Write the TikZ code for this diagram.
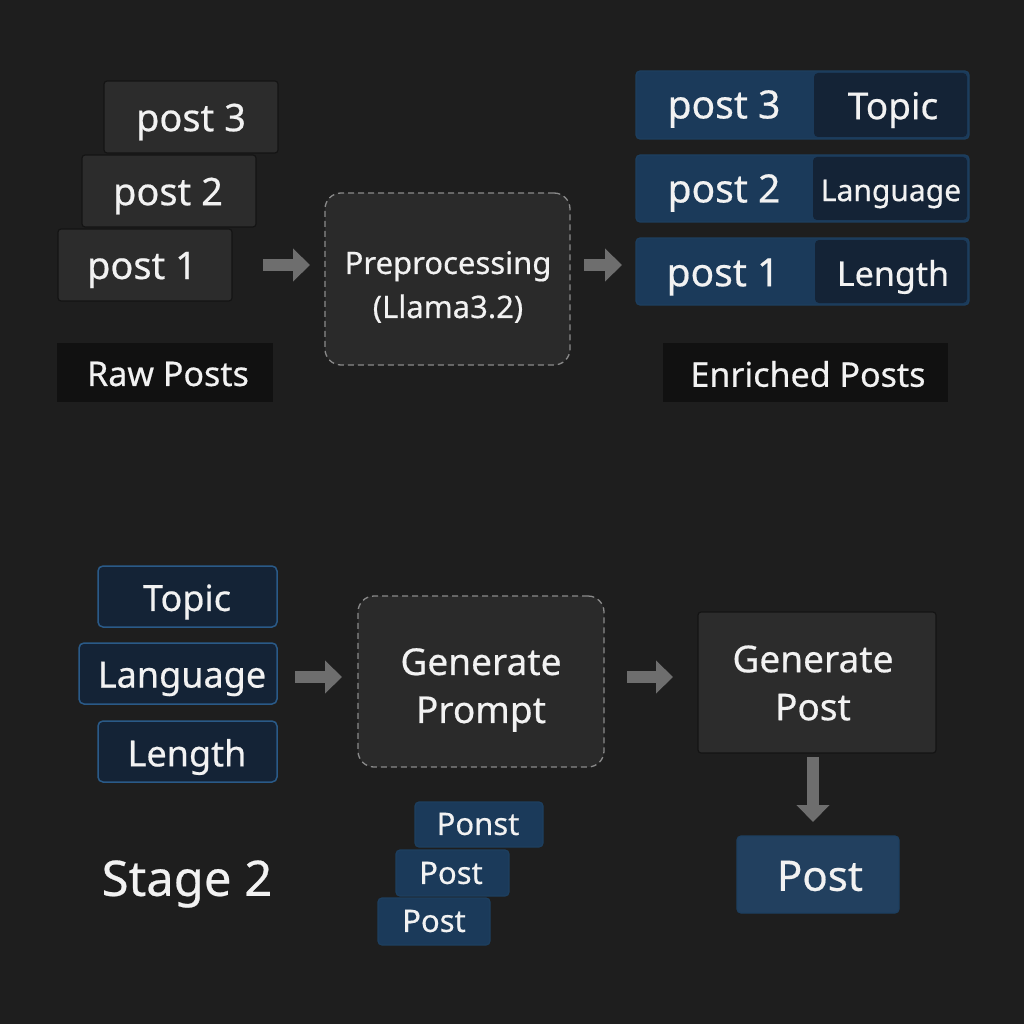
\documentclass[tikz,border=0pt]{standalone}
\usepackage{fontspec}
\setmainfont{Noto Sans}[FakeBold=0.5]
\usetikzlibrary{arrows.meta,positioning,calc}
\definecolor{bg}{HTML}{1E1E1E}
\definecolor{gbox}{HTML}{2C2C2C}
\definecolor{gline}{HTML}{141414}
\definecolor{bbox}{HTML}{1B3A5A}
\definecolor{bdark}{HTML}{142336}
\definecolor{bline}{HTML}{2A5A88}
\definecolor{lbl}{HTML}{111111}
\definecolor{arr}{HTML}{6E6E6E}
\definecolor{dash}{HTML}{8A8A8A}
\definecolor{txt}{HTML}{F2F2F2}
\tikzset{
  every node/.style={text=txt, inner sep=0pt, outer sep=0pt},
  tx/.style={yshift=-4pt},
  graybox/.style={draw=gline, line width=1.2pt, fill=gbox, rounded corners=3pt},
  bluebox/.style={draw=bline!70!black, line width=1.2pt, fill=bbox, rounded corners=4pt},
  tagbox/.style={fill=bdark, rounded corners=4pt},
  navybox/.style={draw=bline, line width=1.5pt, fill=bdark, rounded corners=5pt},
  dashbox/.style={draw=dash, dashed, dash pattern=on 6pt off 4pt, line width=1.3pt, fill=gbox!85!bg, rounded corners=16pt},
  labelbox/.style={fill=lbl},
  bigarrow/.style={draw=arr, line width=12pt, -{Triangle[width=32pt,length=17pt]}},
}
\begin{document}
\begin{tikzpicture}[x=1pt,y=-1pt]
\fill[bg] (0,0) rectangle (1024,1024);
\useasboundingbox (0,0) rectangle (1024,1024);

% ---- Stage 1: raw posts
\node[graybox, minimum width=174pt, minimum height=72pt] (p3) at (191,117) {};
\node[tx, font=\fontsize{38}{40}\selectfont] (p3t) at (191,118) {post 3};
\node[graybox, minimum width=174pt, minimum height=72pt] (p2) at (169,191) {};
\node[tx, font=\fontsize{38}{40}\selectfont] (p2t) at (168,192) {post 2};
\node[graybox, minimum width=174pt, minimum height=72pt] (p1) at (145,265) {};
\node[tx, font=\fontsize{38}{40}\selectfont] (p1t) at (142,266) {post 1};

\node[labelbox, minimum width=216pt, minimum height=59pt] (raw) at (165,372.5) {};
\node[font=\fontsize{34}{36}\selectfont] (rawt) at (168,374) {Raw Posts};

% ---- preprocessing
\node[dashbox, minimum width=245pt, minimum height=172pt] (prep) at (447.5,279) {};
\node[tx, font=\fontsize{31}{44}\selectfont, align=center] (prept) at (448,283) {Preprocessing\\(Llama3.2)};

% ---- enriched posts
\node[bluebox, minimum width=333pt, minimum height=68pt] (e3) at (802.5,105) {};
\node[tagbox, minimum width=153pt, minimum height=64pt] (t3) at (890.5,105) {};
\node[tx, font=\fontsize{39}{40}\selectfont] at (724,105) {post 3};
\node[tx, font=\fontsize{37}{40}\selectfont] at (893,106) {Topic};

\node[bluebox, minimum width=333pt, minimum height=67pt] (e2) at (802.5,188.5) {};
\node[tagbox, minimum width=154pt, minimum height=63pt] (t2) at (890,188.5) {};
\node[tx, font=\fontsize{39}{40}\selectfont] at (724,189) {post 2};
\node[tx, font=\fontsize{30}{32}\selectfont] at (891,190) {Language};

\node[bluebox, minimum width=333pt, minimum height=67pt] (e1) at (802.5,271.5) {};
\node[tagbox, minimum width=152pt, minimum height=63pt] (t1) at (891,271.5) {};
\node[tx, font=\fontsize{39}{40}\selectfont] at (723,273) {post 1};
\node[tx, font=\fontsize{34}{36}\selectfont] at (893,273) {Length};

\node[labelbox, minimum width=285pt, minimum height=59pt] (enr) at (805.5,372.5) {};
\node[font=\fontsize{34}{36}\selectfont] (enrt) at (808,374) {Enriched Posts};

\draw[bigarrow, shorten <=31pt, shorten >=15pt] (p1.east) -- (p1.east -| prep.west);
\draw[bigarrow, shorten <=14pt, shorten >=14pt] (prep.east |- 0,265) coordinate (a2s) -- (a2s -| e1.west);

% ---- Stage 2
\node[navybox, minimum width=179pt, minimum height=61pt] (topic) at (187.5,596.5) {};
\node[tx, font=\fontsize{36}{38}\selectfont] at (187,598) {Topic};
\node[navybox, minimum width=198pt, minimum height=61pt] (lang) at (178,673.5) {};
\node[tx, font=\fontsize{36}{38}\selectfont] at (182,675) {Language};
\node[navybox, minimum width=179pt, minimum height=61pt] (len) at (187.5,751.5) {};
\node[tx, font=\fontsize{36}{38}\selectfont] at (187,753) {Length};

\node[dashbox, minimum width=246pt, minimum height=171pt] (gp) at (481,681.5) {};
\node[tx, font=\fontsize{37}{48}\selectfont, align=center] at (481,686) {Generate\\Prompt};

\node[graybox, minimum width=238pt, minimum height=141pt] (gpost) at (817,682.5) {};
\node[font=\fontsize{37}{48}\selectfont, align=center] at (813,683) {Generate\\Post};

\node[bluebox, fill=bbox!97!white, minimum width=162pt, minimum height=77pt] (out) at (818,874.5) {};
\node[font=\fontsize{42}{44}\selectfont] at (820,876) {Post};

\draw[bigarrow, shorten <=18pt, shorten >=16pt] (lang.east |- 0,677) coordinate (a3s) -- (a3s -| gp.west);
\draw[bigarrow, shorten <=23pt, shorten >=25pt] (gp.east |- 0,677) coordinate (a4s) -- (a4s -| gpost.west);
\draw[bigarrow, shorten <=4pt, shorten >=14pt] (gpost.south -| 813,0) coordinate (a5s) -- (a5s |- out.north);

\node[bluebox, minimum width=128pt, minimum height=45pt] (s3) at (479,824.5) {};
\node[font=\fontsize{31}{33}\selectfont] at (478,824) {Ponst};
\node[bluebox, minimum width=113pt, minimum height=46pt] (s2) at (452.5,873) {};
\node[font=\fontsize{31}{33}\selectfont] at (451,873) {Post};
\node[bluebox, minimum width=112pt, minimum height=47pt] (s1) at (434,921.5) {};
\node[font=\fontsize{31}{33}\selectfont] at (434,921) {Post};

\node[tx, font=\fontsize{49}{52}\selectfont] (stage) at (187,880) {Stage 2};
\end{tikzpicture}
\end{document}
